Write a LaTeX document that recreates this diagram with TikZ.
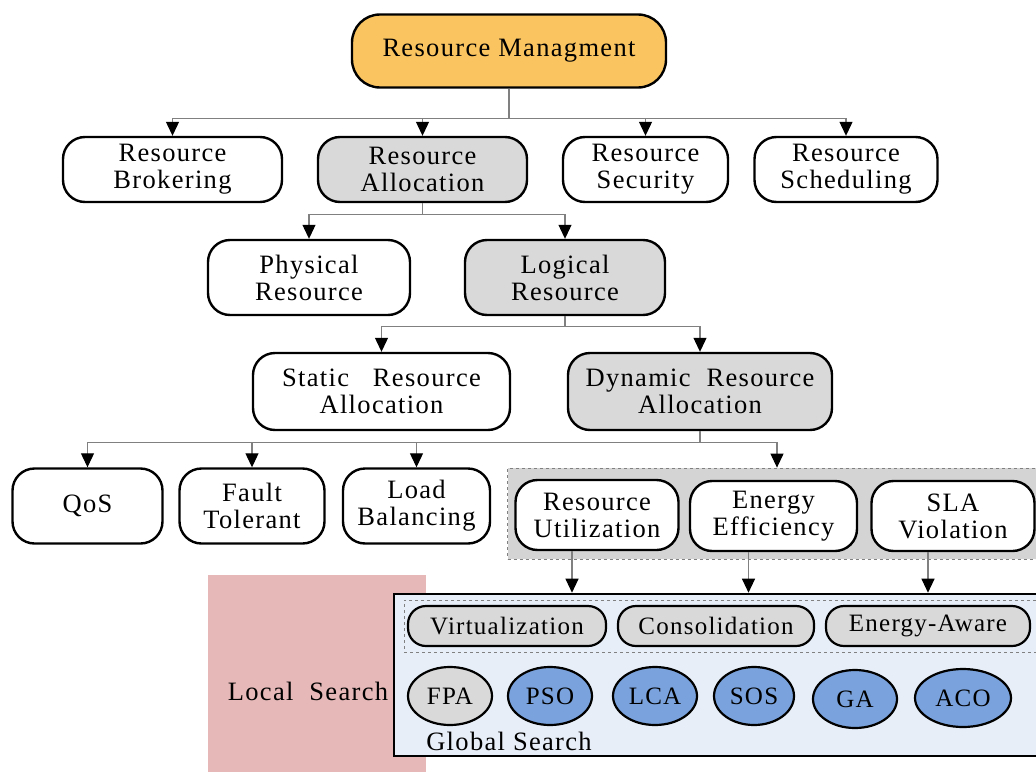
\documentclass[tikz,border=0pt]{standalone}
\usepackage{fontspec}
\setmainfont{Liberation Serif}[LetterSpace=5]
\usetikzlibrary{arrows.meta,shapes.geometric}
\definecolor{rmorange}{RGB}{250,196,96}
\definecolor{boxgray}{RGB}{217,217,217}
\definecolor{grpgray}{RGB}{212,212,212}
\definecolor{pinkbg}{RGB}{230,185,184}
\definecolor{lightblue}{RGB}{232,238,247}
\definecolor{algblue}{RGB}{122,162,220}
\definecolor{conngray}{RGB}{128,128,128}
\tikzset{
  box/.style={draw=black, fill=white, line width=2.4pt, rounded corners=22pt, align=center, inner sep=0pt,
     font=\fontsize{26.5}{27}\selectfont, text=black},
  pill/.style={draw=black, line width=2.2pt, rounded corners=18pt, fill=boxgray, inner sep=0pt,
     minimum height=40pt, font=\fontsize{25}{27}\selectfont},
  alg/.style={ellipse, draw=black, line width=2.2pt, inner sep=0pt, minimum height=58pt,
     font=\fontsize{25}{27}\selectfont},
  conn/.style={draw=conngray, line width=1.1pt, -{Triangle[width=13pt,length=14pt,black]}},
  plain/.style={font=\fontsize{26.5}{27}\selectfont, inner sep=0pt}
}
\begin{document}
\begin{tikzpicture}[x=1pt,y=-1pt]
\useasboundingbox (0,0) rectangle (1036,771);
% level 1
\node[box, fill=rmorange, rounded corners=28pt, minimum width=314pt, minimum height=73pt] (rm) at (509,51) {Resource Managment};
% level 2
\node[box, minimum width=219pt, minimum height=65pt] (rb) at (172.5,169.5) {Resource\\Brokering};
\node[box, fill=boxgray, minimum width=209pt, minimum height=65pt] (ra) at (422.5,169.5) {Resource\\Allocation};
\node[box, minimum width=165pt, minimum height=65pt] (rs) at (645.5,169.5) {Resource\\Security};
\node[box, minimum width=183pt, minimum height=65pt] (rsc) at (846,169.5) {Resource\\Scheduling};
% level 3
\node[box, minimum width=202pt, minimum height=75pt] (pr) at (309,277.5) {Physical\\Resource};
\node[box, fill=boxgray, minimum width=200pt, minimum height=75pt] (lr) at (565,277.5) {Logical\\Resource};
% level 4
\node[box, minimum width=257pt, minimum height=77pt] (sra) at (381.5,391.5) {Static\ \ \ Resource\\Allocation};
\node[box, fill=boxgray, minimum width=264pt, minimum height=77pt] (dra) at (700,391.5) {Dynamic\ \ Resource\\Allocation};
% level 5
\node[box, minimum width=150pt, minimum height=75pt] (qos) at (87.5,506) {QoS};
\node[box, minimum width=145pt, minimum height=75pt] (ft) at (252,506) {Fault\\Tolerant};
\node[box, minimum width=147pt, minimum height=75pt] (lb) at (416.5,506) {Load\\Balancing};
\node[draw=conngray, dashed, line width=0.8pt, fill=grpgray, minimum width=533pt, minimum height=91pt, inner sep=0pt] (grp) at (774,513.5) {};
\node[box, minimum width=163pt, minimum height=70pt] (ru) at (597,515) {Resource\\Utilization};
\node[box, minimum width=167pt, minimum height=70pt] (ee) at (773.5,516) {Energy\\Efficiency};
\node[box, minimum width=163pt, minimum height=70pt] (sla) at (953,516) {SLA\\Violation};
% bottom area
\node[fill=pinkbg, minimum width=218pt, minimum height=205pt, inner sep=0pt] (ls) at (317,677.5) {};
\node[plain, anchor=center] (lstext) at (308,691) {Local\ \ Search};
\node[draw=black, line width=2.6pt, fill=lightblue, minimum width=660pt, minimum height=162pt, inner sep=0pt] (gbox) at (724,675) {};
\node[draw=conngray, dashed, line width=0.8pt, minimum width=650pt, minimum height=52pt, inner sep=0pt] (dbox) at (729,626) {};
\node[pill, minimum width=198pt] (virt) at (507,626) {Virtualization};
\node[pill, minimum width=196pt] (cons) at (716,626) {Consolidation};
\node[pill, minimum width=204pt] (ea) at (928,626) {Energy-Aware};
\node[alg, fill=boxgray, minimum width=84pt] (fpa) at (450,696) {FPA};
\node[alg, fill=algblue, minimum width=84pt] (pso) at (550,696) {PSO};
\node[alg, fill=algblue, minimum width=84pt] (lca) at (655,696) {LCA};
\node[alg, fill=algblue, minimum width=80pt] (sos) at (754,696) {SOS};
\node[alg, fill=algblue, minimum width=84pt] (ga) at (855,699) {GA};
\node[alg, fill=algblue, minimum width=96pt] (aco) at (963,698) {ACO};
\node[plain] (gs) at (509,741) {Global Search};
% connectors
\draw[conn] (rm.south) -- ++(0,30) -| (rb.north);
\draw[conn] (rm.south) -- ++(0,30) -| (ra.north);
\draw[conn] (rm.south) -- ++(0,30) -| (rs.north);
\draw[conn] (rm.south) -- ++(0,30) -| (rsc.north);
\draw[conn] (ra.south) -- ++(0,11) -| (pr.north);
\draw[conn] (ra.south) -- ++(0,11) -| (lr.north);
\draw[conn] (lr.south) -- ++(0,10) -| (sra.north);
\draw[conn] (lr.south) -- ++(0,10) -| (dra.north);
\draw[conn] (dra.south) -- ++(0,11) -| (qos.north);
\draw[conn] (dra.south) -- ++(0,11) -| (ft.north);
\draw[conn] (dra.south) -- ++(0,11) -| (lb.north);
\draw[conn] (dra.south) -- ++(0,11) -| ([xshift=3pt]grp.north);
\draw[conn] ([xshift=-25pt]ru.south) -- ([xshift=-25pt]ru.south |- gbox.north);
\draw[conn] ([xshift=-25pt]ee.south) -- ([xshift=-25pt]ee.south |- gbox.north);
\draw[conn] ([xshift=-25pt]sla.south) -- ([xshift=-25pt]sla.south |- gbox.north);
\end{tikzpicture}
\end{document}
